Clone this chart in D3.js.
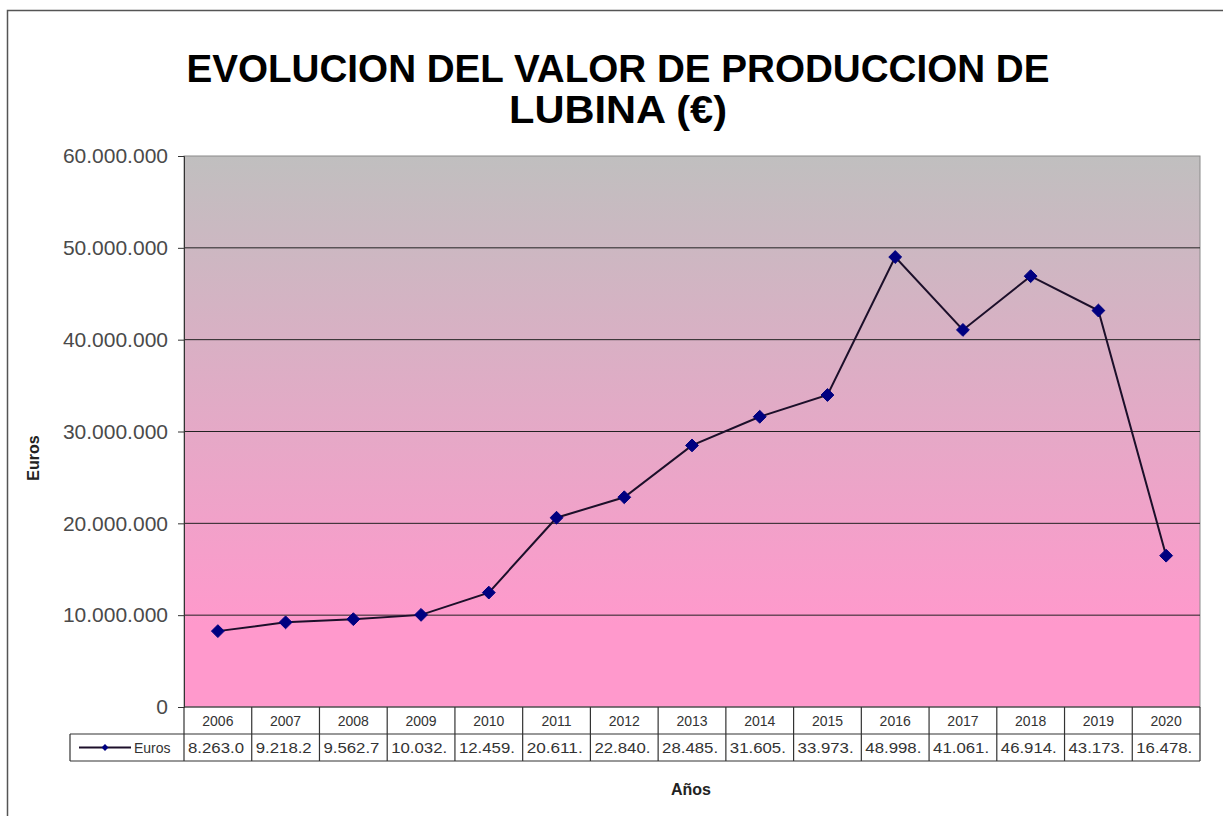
<!DOCTYPE html>
<html>
<head>
<meta charset="utf-8">
<script src="https://cdn.jsdelivr.net/npm/d3@7"></script>
<style>
  body { margin: 0; background: #fff; }
  svg { display: block; font-family: "Liberation Sans", Arial, sans-serif; }
</style>
</head>
<body>
<svg id="chart" width="1223" height="816"></svg>
<script>
const years = ["2006", "2007", "2008", "2009", "2010", "2011", "2012", "2013", "2014", "2015", "2016", "2017", "2018", "2019", "2020"];
const euros = [8263000, 9218200, 9562700, 10032000, 12459000, 20611000, 22840000, 28485000, 31605000, 33973000, 48998000, 41061000, 46914000, 43173000, 16478000];
const yTicks = [0, 10000000, 20000000, 30000000, 40000000, 50000000, 60000000];
const titleLines = ["EVOLUCION DEL VALOR DE PRODUCCION DE", "LUBINA (€)"];
const seriesName = "Euros";

const svg = d3.select("#chart");
const pL = 184, pR = 1200, pT = 156, pB = 707;
const rowH = 27;

const fmt = d3.formatLocale({ decimal: ",", thousands: ".", grouping: [3], currency: ["", "€"] }).format(",d");

// outer frame (only left/top edge visible)
svg.append("rect")
  .attr("x", 7.5).attr("y", 10.5)
  .attr("width", 1300).attr("height", 900)
  .style("fill", "#fff")
  .style("stroke", "#555")
  .style("stroke-width", 1.5);

// gradient for plot area
const grad = svg.append("defs").append("linearGradient")
  .attr("id", "bg").attr("x1", 0).attr("y1", 0).attr("x2", 0).attr("y2", 1);
grad.append("stop").attr("offset", "0%").attr("stop-color", "#c0bfbf");
grad.append("stop").attr("offset", "85%").attr("stop-color", "#ff99cc");
grad.append("stop").attr("offset", "100%").attr("stop-color", "#ff99cc");

const x = d3.scaleBand().domain(years).range([pL, pR]);
const y = d3.scaleLinear().domain([0, 60000000]).range([pB, pT]);

svg.append("rect")
  .attr("x", pL).attr("y", pT)
  .attr("width", pR - pL).attr("height", pB - pT)
  .style("fill", "url(#bg)")
  .style("stroke", "#8a8a8a")
  .style("stroke-width", 1);

// gridlines
svg.append("g")
  .selectAll("line")
  .data(yTicks.filter(d => d > 0 && d < 60000000))
  .enter()
  .append("line")
  .attr("x1", pL).attr("x2", pR)
  .attr("y1", d => y(d)).attr("y2", d => y(d))
  .style("stroke", "#222")
  .style("stroke-width", 1);

// y axis
const yAxis = svg.append("g")
  .attr("transform", `translate(${pL},0)`)
  .call(d3.axisLeft(y).tickValues(yTicks).tickFormat(fmt).tickSize(6).tickPadding(10));
yAxis.select(".domain").style("stroke", "#333");
yAxis.selectAll(".tick line").style("stroke", "#333");
yAxis.selectAll("text")
  .style("font-size", "21px")
  .style("fill", "#4a4a4a")
  .style("font-family", "'Liberation Sans', Arial, sans-serif");

// title
const titleW = [863, 218];
svg.append("g")
  .selectAll("text")
  .data(titleLines)
  .enter()
  .append("text")
  .attr("x", 618)
  .attr("y", (d, i) => 82 + i * 41)
  .attr("text-anchor", "middle")
  .attr("textLength", (d, i) => titleW[i])
  .attr("lengthAdjust", "spacingAndGlyphs")
  .style("font-size", "39px")
  .style("font-weight", "bold")
  .style("fill", "#000")
  .text(d => d);

// axis titles
svg.append("text")
  .attr("transform", "translate(39,458) rotate(-90)")
  .attr("text-anchor", "middle")
  .style("font-size", "16px")
  .style("font-weight", "bold")
  .style("fill", "#222")
  .text("Euros");

svg.append("text")
  .attr("x", 691).attr("y", 795)
  .attr("text-anchor", "middle")
  .style("font-size", "16px")
  .style("font-weight", "bold")
  .style("fill", "#222")
  .text("Años");

// line + markers
const pts = years.map((yr, i) => ({ yr, v: euros[i] }));
const cx = d => x(d.yr) + x.bandwidth() / 2;

svg.append("path")
  .datum(pts)
  .attr("d", d3.line().x(cx).y(d => y(d.v)))
  .style("fill", "none")
  .style("stroke", "#1c0f2a")
  .style("stroke-width", 2);

const diamond = d3.symbol().type(d3.symbolDiamond2).size(105);
svg.append("g")
  .selectAll("path")
  .data(pts)
  .enter()
  .append("path")
  .attr("d", diamond)
  .attr("transform", d => `translate(${cx(d)},${y(d.v)})`)
  .style("fill", "#000080")
  .style("stroke", "#000080")
  .style("stroke-width", 1);

// data table
const tbl = svg.append("g").style("font-size", "14px").style("fill", "#333");
const r1 = pB, r2 = pB + rowH, r3 = pB + 2 * rowH;
const lg = 70;

const grid = [
  [pL, r1, pR, r1],
  [pL, r2, pR, r2],
  [lg, r2, pL, r2],
  [lg, r3, pR, r3],
  [lg, r2, lg, r3],
  [pR, r1, pR, r3]
];
years.forEach(yr => grid.push([x(yr), r1, x(yr), r3]));
tbl.selectAll("line")
  .data(grid)
  .enter()
  .append("line")
  .attr("x1", d => d[0]).attr("y1", d => d[1])
  .attr("x2", d => d[2]).attr("y2", d => d[3])
  .style("stroke", "#333")
  .style("stroke-width", 1.2);

tbl.selectAll("text.yr")
  .data(years)
  .enter()
  .append("text")
  .attr("class", "yr")
  .attr("x", d => x(d) + x.bandwidth() / 2)
  .attr("y", r1 + 19)
  .attr("text-anchor", "middle")
  .text(d => d);

tbl.selectAll("text.val")
  .data(pts)
  .enter()
  .append("text")
  .attr("class", "val")
  .attr("x", d => x(d.yr) + 4)
  .attr("y", r2 + 19)
  .attr("textLength", 56)
  .attr("lengthAdjust", "spacingAndGlyphs")
  .text(d => fmt(d.v).slice(0, 7));

// legend key
tbl.append("line")
  .attr("x1", lg + 9).attr("x2", lg + 61)
  .attr("y1", r2 + rowH / 2).attr("y2", r2 + rowH / 2)
  .style("stroke", "#1c0f2a").style("stroke-width", 2);
tbl.append("path")
  .attr("d", d3.symbol().type(d3.symbolDiamond2).size(30))
  .attr("transform", `translate(${lg + 35},${r2 + rowH / 2})`)
  .style("fill", "#000080");
tbl.append("text")
  .attr("x", lg + 64).attr("y", r2 + 19)
  .text(seriesName);
</script>
</body>
</html>
